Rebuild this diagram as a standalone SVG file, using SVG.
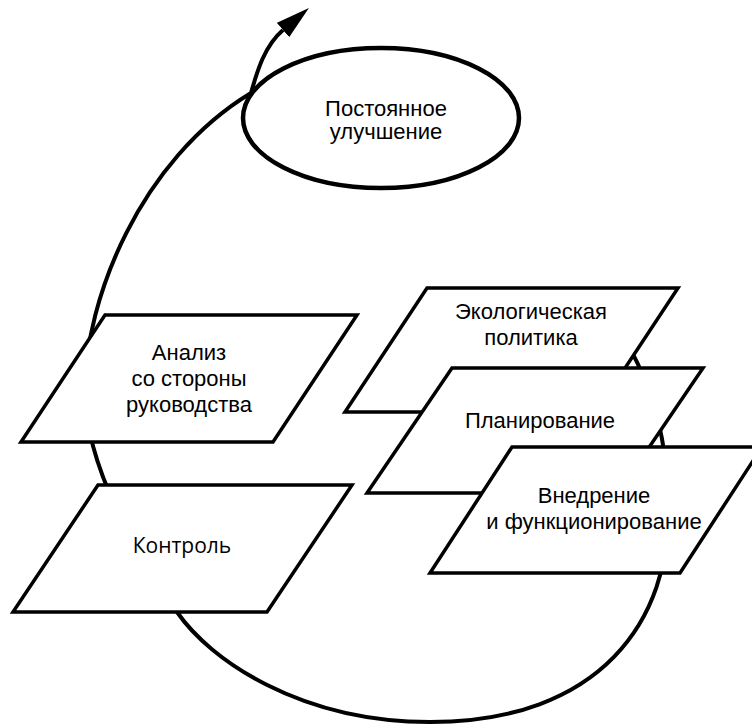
<svg xmlns="http://www.w3.org/2000/svg" width="752" height="726" viewBox="0 0 752 726">
<style>
.node{fill:#fff;stroke:#000;stroke-width:3.5;stroke-linejoin:miter}
.lbl{font-family:"Liberation Sans",Arial,sans-serif;font-size:22px;fill:#000;text-anchor:middle}
.lbl2{font-family:"Open Sans","Noto Sans",sans-serif;font-size:21px;fill:#000;text-anchor:middle}
.conn{fill:none;stroke:#000;stroke-width:4}
</style>
<defs>
<marker id="arrow" markerUnits="userSpaceOnUse" viewBox="0 0 34 19" refX="0" refY="9.5" markerWidth="34" markerHeight="19" orient="auto">
<path d="M0,0 L34,9.5 L0,19 Z" fill="#000"/>
</marker>
</defs>
<rect width="752" height="726" fill="#fff"/>
<g id="improvement">
<ellipse cx="381" cy="118" rx="138" ry="70" fill="#fff" stroke="#000" stroke-width="4.5"/>
<text class="lbl" x="386" y="116">Постоянное</text>
<text class="lbl" x="386" y="139">улучшение</text>
</g>
<g id="connectors">
<path class="conn" marker-end="url(#arrow)" d="M604,310 C646,362 668,430 668,505 C672,620 600,722 430,722 C300,722 210,660 177,612 C144,564 85,470 85,390 C85,300 140,160 251,93 C256,76 263,47 283,30"/>
</g>
<g id="analysis">
<polygon class="node" points="105,315 357,315 273,442 21,442"/>
<text class="lbl" x="189" y="360">Анализ</text>
<text class="lbl" x="189" y="386">со стороны</text>
<text class="lbl" x="189" y="412">руководства</text>
</g>
<g id="control">
<polygon class="node" points="98,485 352,485 267,612 13,612"/>
<text class="lbl2" x="182" y="553">Контроль</text>
</g>
<g id="policy">
<polygon class="node" points="427,288 678,288 596,412 345,412"/>
<text class="lbl" x="531" y="319">Экологическая</text>
<text class="lbl" x="531" y="345">политика</text>
</g>
<g id="planning">
<polygon class="node" points="452,368 703,368 618,493 367,493"/>
<text class="lbl" x="540" y="428">Планирование</text>
</g>
<g id="implementation">
<polygon class="node" points="512,447 762,447 680,573 430,573"/>
<text class="lbl" x="594" y="503">Внедрение</text>
<text class="lbl" x="594" y="529">и функционирование</text>
</g>
</svg>
